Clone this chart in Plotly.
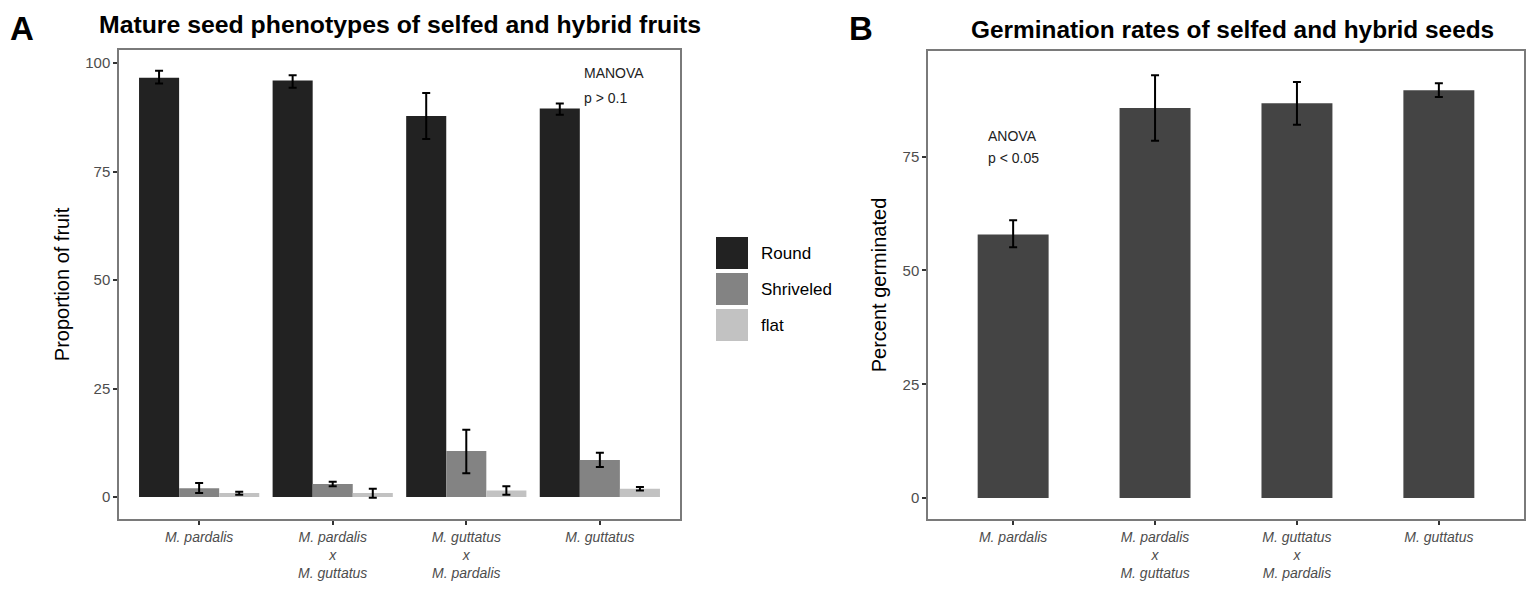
import plotly.graph_objects as go

# categories (x axis labels, both panels)
categories = [
    "<i>M. pardalis</i>",
    "<i>M. pardalis</i><br><i>x</i><br><i>M. guttatus</i>",
    "<i>M. guttatus</i><br><i>x</i><br><i>M. pardalis</i>",
    "<i>M. guttatus</i>",
]

# Panel A: seed phenotypes (mean, upper, lower)
round_mean = [96.6, 96.0, 87.8, 89.5]
round_hi = [98.2, 97.2, 93.1, 90.7]
round_lo = [95.3, 94.3, 82.5, 88.1]
shrivel_mean = [2.0, 3.0, 10.6, 8.5]
shrivel_hi = [3.2, 3.5, 15.5, 10.2]
shrivel_lo = [0.9, 2.5, 5.5, 6.9]
flat_mean = [0.9, 0.9, 1.5, 1.9]
flat_hi = [1.2, 1.9, 2.5, 2.3]
flat_lo = [0.5, -0.15, 0.5, 1.5]

# Panel B: germination
germ_mean = [57.9, 85.7, 86.7, 89.6]
germ_hi = [61.0, 92.9, 91.4, 91.1]
germ_lo = [55.1, 78.5, 82.0, 88.1]

ticks = [0, 25, 50, 75, 100]

FONT = "Liberation Sans, Arial, sans-serif"

# page has an 8px body margin, so size the figure to fit inside it
W, H, OFF = 1519, 576, 8


def px(x):
    return (x - OFF) / W


def py(y):
    return 1 - (y - OFF) / H


def err(mean, hi, lo):
    return dict(
        type="data",
        array=[h - m for h, m in zip(hi, mean)],
        arrayminus=[m - l for m, l in zip(mean, lo)],
        color="black", thickness=2, width=4,
    )


fig = go.Figure()

series = [
    ("Round", round_mean, round_hi, round_lo, "#222222"),
    ("Shriveled", shrivel_mean, shrivel_hi, shrivel_lo, "#838383"),
    ("flat", flat_mean, flat_hi, flat_lo, "#c2c2c2"),
]
for name, m, h, l, c in series:
    fig.add_trace(go.Bar(
        x=list(range(4)), y=m, name=name, marker_color=c, marker_line_width=0,
        error_y=err(m, h, l), xaxis="x", yaxis="y", offsetgroup=name,
        showlegend=False,
    ))

fig.add_trace(go.Bar(
    x=list(range(4)), y=germ_mean, marker_color="#444444", marker_line_width=0,
    width=0.5, error_y=err(germ_mean, germ_hi, germ_lo),
    xaxis="x2", yaxis="y2", showlegend=False,
))

axis_common = dict(
    showline=True, mirror=True, linecolor="#7a7a7a", linewidth=1.5,
    showgrid=False, zeroline=False, ticks="outside", ticklen=4,
    tickcolor="#333333", tickwidth=1.5, automargin=False,
    tickfont=dict(family=FONT, size=15, color="#4d4d4d"),
)
# three-line category labels have to fit above the bottom edge
xaxis_common = {**axis_common, "tickfont": dict(family=FONT, size=14, color="#4d4d4d"),
                "ticklabelstandoff": 0}
title_font = dict(family=FONT, size=20, color="black")

fig.update_layout(
    width=W, height=H,
    margin=dict(l=0, r=0, t=0, b=0),
    paper_bgcolor="white", plot_bgcolor="white",
    barmode="group", bargap=0.1, bargroupgap=0,
    font=dict(family=FONT, color="black"),
    showlegend=False,
    xaxis=dict(domain=[px(119), px(680)], range=[-0.6, 3.6], tickvals=list(range(4)),
               ticktext=categories, anchor="y", **xaxis_common),
    yaxis=dict(domain=[py(519), py(50)], range=[-5.07, 103], tickvals=ticks,
               anchor="x", title=dict(text="Proportion of fruit", font=title_font, standoff=10),
               **axis_common),
    xaxis2=dict(domain=[px(928), px(1524)], range=[-0.6, 3.6], tickvals=list(range(4)),
                ticktext=categories, anchor="y2", **xaxis_common),
    yaxis2=dict(domain=[py(519), py(51)], range=[-4.6, 98.2], tickvals=ticks[:4],
                anchor="x2", title=dict(text="Percent germinated", font=title_font, standoff=11),
                **axis_common),
)

# legend keys for panel A, built from the series list
for i, (name, m, h, l, c) in enumerate(series):
    top = 237 + 36 * i
    fig.add_shape(type="rect", xref="paper", yref="paper",
                  x0=px(716), x1=px(748), y0=py(top + 32), y1=py(top),
                  fillcolor=c, line=dict(width=0))
    fig.add_annotation(xref="paper", yref="paper", x=px(759), y=py(top + 16),
                       text=name, showarrow=False, xanchor="left", yanchor="middle",
                       font=dict(family=FONT, size=17, color="black"))

# panel letters, pinned to the top edge so they are not clipped
for text, x in [("<b>A</b>", 8), ("<b>B</b>", 847)]:
    fig.add_annotation(xref="paper", yref="paper", x=px(x), y=1, text=text,
                       xanchor="left", yanchor="top", showarrow=False,
                       font=dict(size=33, family=FONT, color="black"))

head = [
    ("<b>Mature seed phenotypes of selfed and hybrid fruits</b>", 97, 25, 24.8),
    ("<b>Germination rates of selfed and hybrid seeds</b>", 969, 30, 24.4),
]
for text, x, y, size in head:
    fig.add_annotation(xref="paper", yref="paper", x=px(x), y=py(y), text=text,
                       xanchor="left", yanchor="middle", showarrow=False,
                       font=dict(size=size, family=FONT, color="black"))

note_font = dict(family=FONT, size=14, color="#222")
notes = [
    ("x", "y", 2.87, 97.7, "MANOVA"),
    ("x", "y", 2.87, 91.9, "p > 0.1"),
    ("x2", "y2", -0.19, 79.6, "ANOVA"),
    ("x2", "y2", -0.19, 74.6, "p < 0.05"),
]
for xr, yr, x, y, text in notes:
    fig.add_annotation(xref=xr, yref=yr, x=x, y=y, text=text, showarrow=False,
                       xanchor="left", yanchor="middle", font=note_font)

fig.write_html("out.html")
